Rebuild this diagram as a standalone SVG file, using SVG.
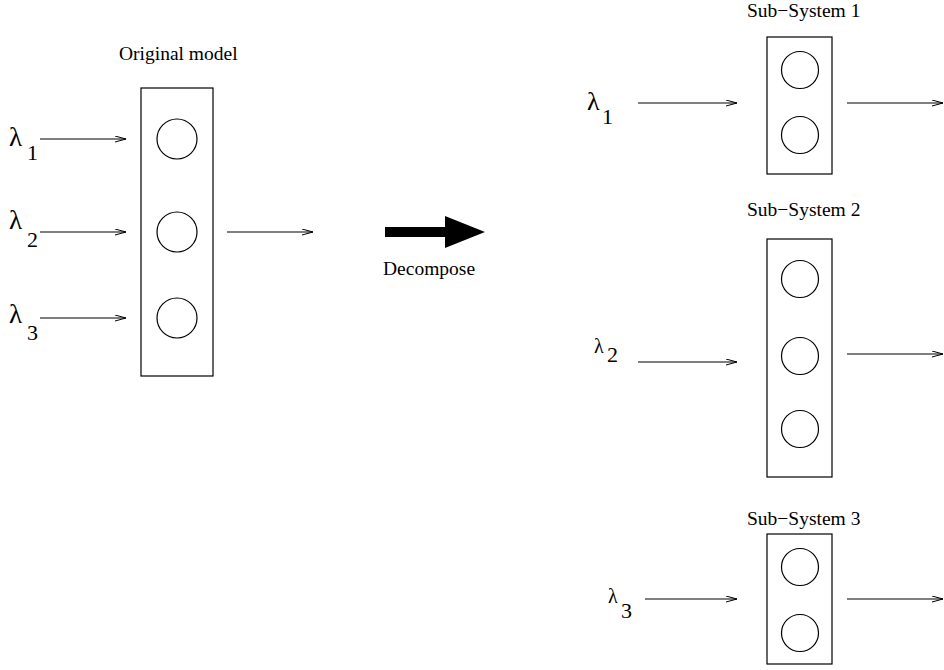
<svg xmlns="http://www.w3.org/2000/svg" width="944" height="670" viewBox="0 0 944 670">
  <defs>
    <marker id="vhead" markerWidth="12" markerHeight="8" refX="11" refY="3.5" orient="auto" markerUnits="userSpaceOnUse">
      <path d="M0,0.5 L11,3.5 L0,6.5" fill="none" stroke="#000" stroke-width="1"/>
    </marker>
  </defs>
  <style>
    .box { fill: none; stroke: #000; stroke-width: 1.2; }
    .unit { fill: none; stroke: #000; stroke-width: 1.2; }
    .flow { stroke: #000; stroke-width: 1.1; fill: none; marker-end: url(#vhead); }
    .lbl { font-family: "Liberation Serif", "Times New Roman", serif; font-size: 19.5px; fill: #000; }
    .lam { font-family: "Liberation Serif", "DejaVu Serif", serif; fill: #000; }
    .sub { font-family: "Liberation Serif", "Times New Roman", serif; font-size: 22px; fill: #000; }
  </style>
  <rect width="944" height="670" fill="#fff"/>

  <!-- original model -->
  <g id="original-model">
    <text class="lbl" x="119" y="60">Original model</text>
    <rect class="box" x="141" y="88" width="72" height="288"/>
    <circle class="unit" cx="177" cy="139" r="20"/>
    <circle class="unit" cx="177" cy="232" r="20"/>
    <circle class="unit" cx="177" cy="318" r="20"/>
  </g>

  <!-- decompose arrow -->
  <g id="decompose">
    <polygon points="385,227 445,227 445,216 485,232 445,248 445,237 385,237" fill="#000"/>
    <text class="lbl" x="383" y="275">Decompose</text>
  </g>

  <!-- sub-systems -->
  <g id="sub-system-1">
    <text class="lbl" x="747" y="17">Sub−System 1</text>
    <rect class="box" x="767" y="37" width="65" height="137"/>
    <circle class="unit" cx="800" cy="70" r="18.5"/>
    <circle class="unit" cx="800" cy="135" r="18.5"/>
  </g>
  <g id="sub-system-2">
    <text class="lbl" x="747" y="216">Sub−System 2</text>
    <rect class="box" x="767" y="239" width="65" height="238"/>
    <circle class="unit" cx="800" cy="279" r="18.5"/>
    <circle class="unit" cx="800" cy="356" r="18.5"/>
    <circle class="unit" cx="800" cy="429" r="18.5"/>
  </g>
  <g id="sub-system-3">
    <text class="lbl" x="747" y="525">Sub−System 3</text>
    <rect class="box" x="767" y="534" width="65" height="130"/>
    <circle class="unit" cx="800" cy="567" r="18.5"/>
    <circle class="unit" cx="800" cy="633" r="18.5"/>
  </g>

  <!-- arrival rate labels -->
  <g id="rates">
    <text class="lam" x="9" y="146" font-size="27">λ</text><text class="sub" x="27" y="160">1</text>
    <text class="lam" x="9" y="229" font-size="27">λ</text><text class="sub" x="27" y="247">2</text>
    <text class="lam" x="9" y="323" font-size="27">λ</text><text class="sub" x="27" y="340">3</text>
    <text class="lam" x="587" y="110" font-size="26">λ</text><text class="sub" x="602" y="124">1</text>
    <text class="lam" x="594" y="353" font-size="20">λ</text><text class="sub" x="607" y="362">2</text>
    <text class="lam" x="608" y="603" font-size="20">λ</text><text class="sub" x="621" y="618">3</text>
  </g>

  <!-- connectors -->
  <g id="connectors">
    <line class="flow" x1="40" y1="139" x2="126" y2="139"/>
    <line class="flow" x1="40" y1="232" x2="126" y2="232"/>
    <line class="flow" x1="40" y1="318" x2="126" y2="318"/>
    <line class="flow" x1="227" y1="232" x2="313" y2="232"/>

    <line class="flow" x1="638" y1="103" x2="737" y2="103"/>
    <line class="flow" x1="847" y1="103" x2="943" y2="103"/>
    <line class="flow" x1="638" y1="362" x2="737" y2="362"/>
    <line class="flow" x1="847" y1="354" x2="943" y2="354"/>
    <line class="flow" x1="645" y1="599" x2="737" y2="599"/>
    <line class="flow" x1="847" y1="599" x2="943" y2="599"/>
  </g>
</svg>
